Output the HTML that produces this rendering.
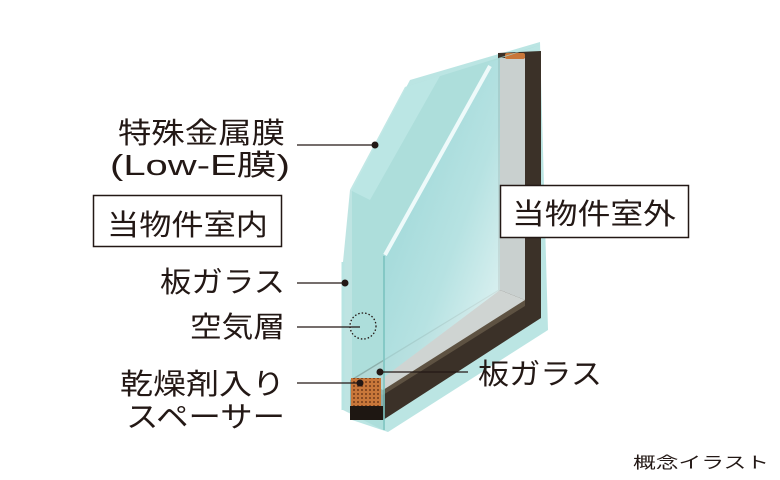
<!DOCTYPE html>
<html><head><meta charset="utf-8"><style>
html,body{margin:0;padding:0;background:#fff;width:780px;height:480px;overflow:hidden}
svg text{font-family:"Liberation Sans","Noto Sans CJK JP",sans-serif;fill:#231815}
</style></head><body>
<svg width="780" height="480" viewBox="0 0 780 480" xmlns="http://www.w3.org/2000/svg">
<defs>
<linearGradient id="g1" x1="0" y1="0" x2="1" y2="1">
<stop offset="0" stop-color="#8fd1d2"/><stop offset="0.6" stop-color="#b6e2e2"/><stop offset="1" stop-color="#eef8f8"/>
</linearGradient>
<pattern id="dots" width="4" height="4" patternUnits="userSpaceOnUse"><rect width="4" height="4" fill="#c8773a"/><circle cx="2" cy="2" r="0.9" fill="#5a2a10"/></pattern>
</defs>
<polygon points="410,80 540,42 548,330 388,432 352,420 352,190" fill="#b4e2e0" opacity="0.9"/>
<polygon points="498,53 541,51 541,318 383,420 350,420 350,380 498,290" fill="#3b3128"/>
<polygon points="498,290 525,300 525,306 383,395 356,380" fill="#5e5242"/>
<polygon points="500,58 525,58 525,300 500,290" fill="#c9d0cf"/>
<polygon points="500,290 525,300 383,390 356,378" fill="#cfd4d2"/>
<rect x="505" y="53" width="20" height="6" rx="2" fill="#c8773a"/>
<polygon points="490,62 500,58 500,290 383,378 383,255" fill="url(#g1)" opacity="0.9"/>
<polygon points="343,262 350,190 405,87 540,45 490,62 383,255 383,430 343,410" fill="#a8dbd8" opacity="0.75"/>
<line x1="490" y1="66" x2="385" y2="255" stroke="#eefafa" stroke-width="4"/>
<rect x="351" y="378" width="30" height="30" fill="url(#dots)"/>
<rect x="350" y="406" width="33" height="14" fill="#1e1712"/>
<line x1="384" y1="256" x2="384" y2="430" stroke="#7cc4c0" stroke-width="2" opacity="0.8"/>
<line x1="343" y1="262" x2="343" y2="410" stroke="#b8e4e2" stroke-width="3"/>
<polygon points="350,190 405,87 440,76 370,200" fill="#c5ebea" opacity="0.6"/>
<g stroke="#231815" stroke-width="1.3" fill="none">
<line x1="297" y1="145" x2="375" y2="145"/>
<line x1="297" y1="283" x2="345" y2="283"/>
<line x1="297" y1="327" x2="360" y2="327"/>
<line x1="297" y1="383" x2="360" y2="383"/>
<line x1="380" y1="372" x2="468" y2="372"/>
<circle cx="363" cy="326" r="13" stroke-dasharray="1.5 2" stroke-width="1.3"/>
</g>
<g fill="#231815">
<circle cx="375" cy="145" r="3.5"/><circle cx="345" cy="283" r="3.5"/>
<circle cx="360" cy="383" r="3.5"/><circle cx="380" cy="372" r="3.5"/>
</g>
<g font-size="29">
<text x="118" y="143" textLength="167" lengthAdjust="spacingAndGlyphs">特殊金属膜</text>
<text x="110" y="175" textLength="180" lengthAdjust="spacingAndGlyphs">(Low-E膜)</text>
<text x="107" y="235" textLength="161" lengthAdjust="spacingAndGlyphs">当物件室内</text>
<text x="160" y="292" textLength="125" lengthAdjust="spacingAndGlyphs">板ガラス</text>
<text x="190" y="337" textLength="95" lengthAdjust="spacingAndGlyphs">空気層</text>
<text x="120" y="394" textLength="165" lengthAdjust="spacingAndGlyphs">乾燥剤入り</text>
<text x="126" y="427" textLength="159" lengthAdjust="spacingAndGlyphs">スペーサー</text>
<text x="478" y="384" textLength="124" lengthAdjust="spacingAndGlyphs">板ガラス</text>
</g>
<rect x="93.5" y="195.5" width="188" height="51" fill="none" stroke="#231815" stroke-width="1.5"/>
<rect x="500.5" y="185.5" width="188" height="52" fill="#fff" stroke="#231815" stroke-width="1.5"/>
<text x="512" y="224" font-size="29" textLength="164" lengthAdjust="spacingAndGlyphs">当物件室外</text>
<text x="633" y="468" font-size="16" textLength="136" lengthAdjust="spacingAndGlyphs">概念イラスト</text>
</svg>
</body></html>
